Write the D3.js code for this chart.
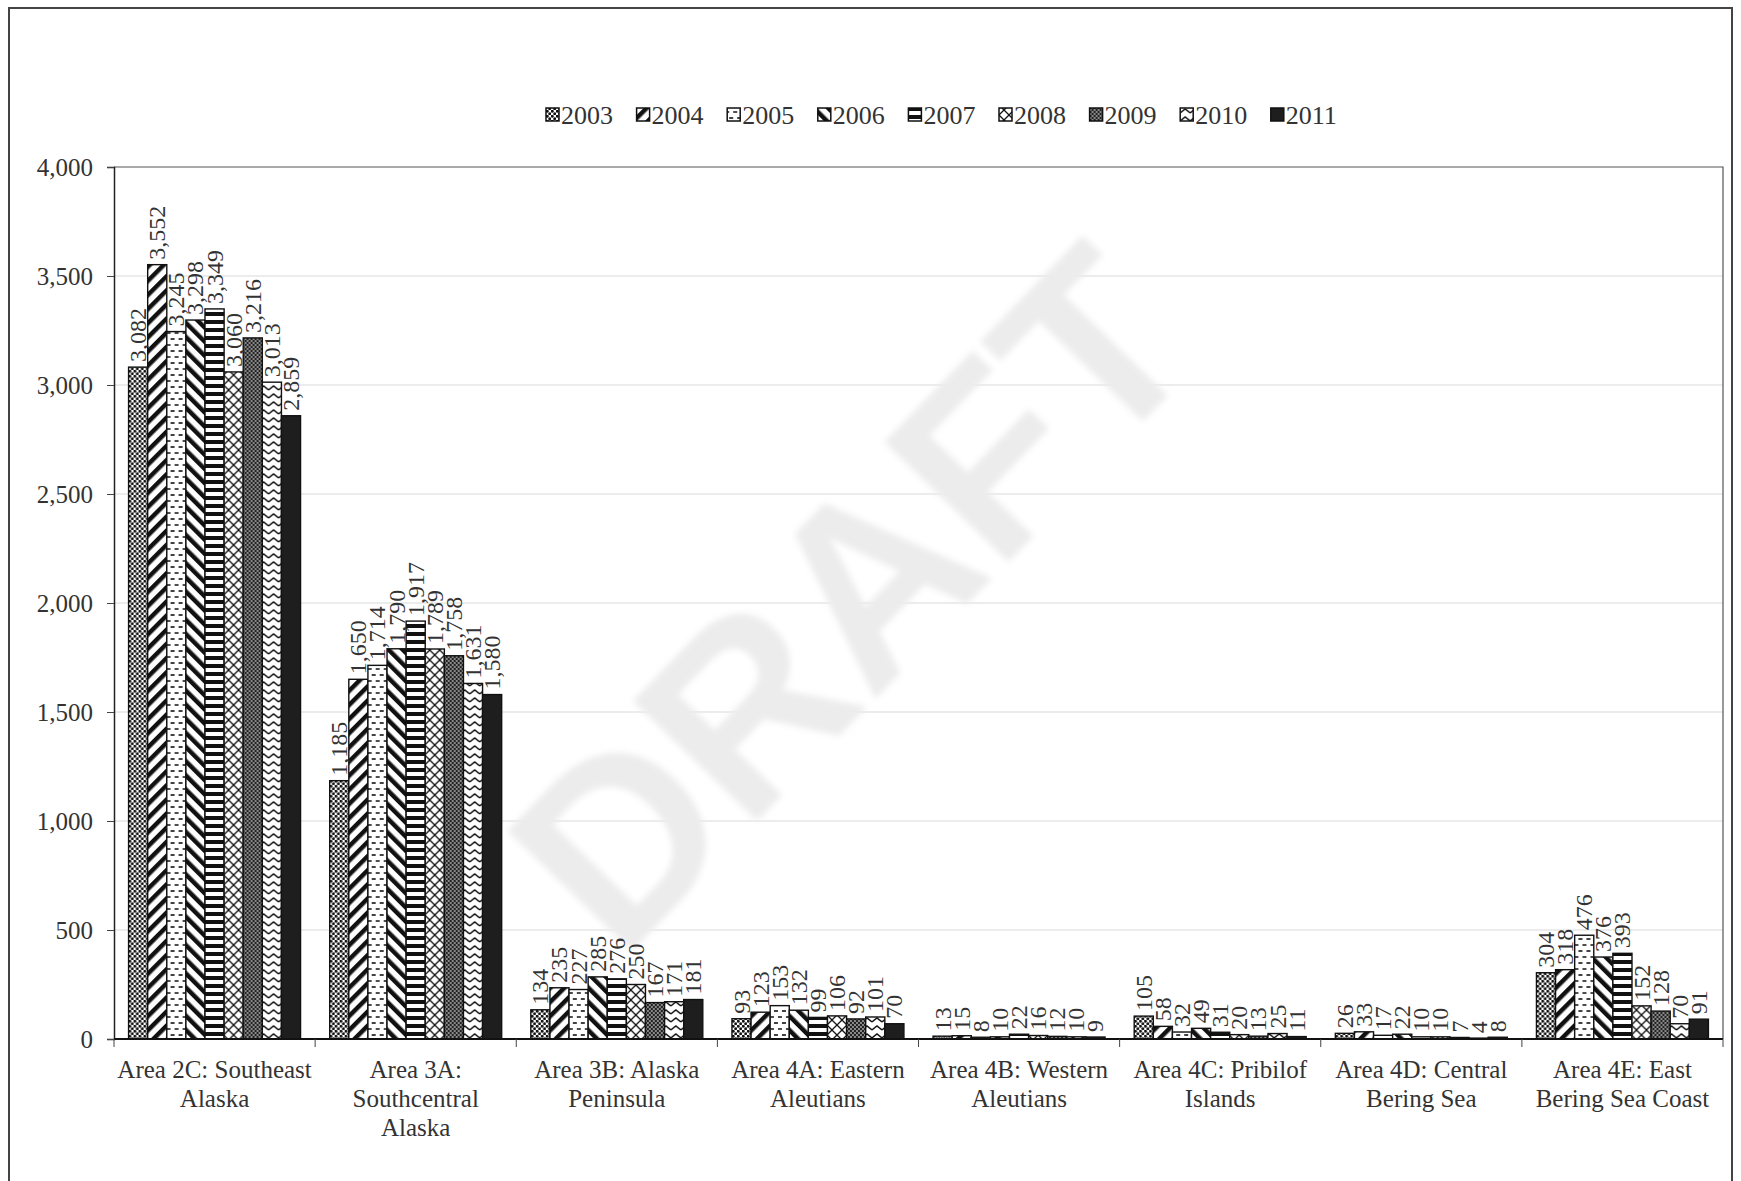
<!DOCTYPE html>
<html>
<head>
<meta charset="utf-8">
<script src="https://cdn.jsdelivr.net/npm/d3@7"></script>
<style>
  html, body { margin: 0; padding: 0; background: #fff; }
  svg { display: block; }
  text { font-family: "Liberation Serif", "Times New Roman", serif; fill: #333; }
</style>
</head>
<body>
<svg id="chart" width="1741" height="1181"></svg>
<script>
// Halibut by regulatory area, 2003-2011
const areas = [
  ["Area 2C: Southeast", "Alaska"],
  ["Area 3A:", "Southcentral", "Alaska"],
  ["Area 3B: Alaska", "Peninsula"],
  ["Area 4A: Eastern", "Aleutians"],
  ["Area 4B: Western", "Aleutians"],
  ["Area 4C: Pribilof", "Islands"],
  ["Area 4D: Central", "Bering Sea"],
  ["Area 4E: East", "Bering Sea Coast"]
];
const years = ["2003", "2004", "2005", "2006", "2007", "2008", "2009", "2010", "2011"];

// one array per area, values in year order
const area2C = [3082, 3552, 3245, 3298, 3349, 3060, 3216, 3013, 2859];
const area3A = [1185, 1650, 1714, 1790, 1917, 1789, 1758, 1631, 1580];
const area3B = [134, 235, 227, 285, 276, 250, 167, 171, 181];
const area4A = [93, 123, 153, 132, 99, 106, 92, 101, 70];
const area4B = [13, 15, 8, 10, 22, 16, 12, 10, 9];
const area4C = [105, 58, 32, 49, 31, 20, 13, 25, 11];
const area4D = [26, 33, 17, 22, 10, 10, 7, 4, 8];
const area4E = [304, 318, 476, 376, 393, 152, 128, 70, 91];
const seriesByArea = [area2C, area3A, area3B, area4A, area4B, area4C, area4D, area4E];

const yTicks = [0, 500, 1000, 1500, 2000, 2500, 3000, 3500, 4000];

const svg = d3.select("#chart");
const W = 1741, H = 1181;
const plot = { left: 114, right: 1723, top: 167, bottom: 1039 };

// page frame
svg.append("path")
  .attr("d", `M9,${H} V8 H1732 V${H}`)
  .attr("fill", "none").attr("stroke", "#444").attr("stroke-width", 2);

// fill patterns, one per year
const defs = svg.append("defs");
defs.append("filter").attr("id", "soft")
  .append("feGaussianBlur").attr("stdDeviation", 3);
function pat(id, w, h, draw, bg = "#fff", transform = null) {
  const p = defs.append("pattern").attr("id", id)
    .attr("patternUnits", "userSpaceOnUse").attr("width", w).attr("height", h);
  if (transform) p.attr("patternTransform", transform);
  p.append("rect").attr("width", w).attr("height", h).attr("fill", bg);
  draw(p);
}
pat("p2003", 5, 5, p => {
  p.append("circle").attr("cx", 1.2).attr("cy", 1.2).attr("r", 1.5).attr("fill", "#111");
  p.append("circle").attr("cx", 3.7).attr("cy", 3.7).attr("r", 1.5).attr("fill", "#111");
});
pat("p2004", 10, 10, p => {
  p.append("rect").attr("x", 0).attr("y", 0).attr("width", 4.5).attr("height", 10).attr("fill", "#111");
}, "#fff", "rotate(45)");
pat("p2005", 8, 12, p => {
  p.append("line").attr("x1", 2).attr("x2", 6).attr("y1", 3).attr("y2", 3).attr("stroke", "#111").attr("stroke-width", 1.6);
  p.append("line").attr("x1", 0).attr("x2", 2).attr("y1", 9).attr("y2", 9).attr("stroke", "#111").attr("stroke-width", 1.6);
  p.append("line").attr("x1", 6).attr("x2", 8).attr("y1", 9).attr("y2", 9).attr("stroke", "#111").attr("stroke-width", 1.6);
});
pat("p2006", 10, 10, p => {
  p.append("rect").attr("x", 0).attr("y", 0).attr("width", 4.5).attr("height", 10).attr("fill", "#111");
}, "#fff", "rotate(-45)");
pat("p2007", 8, 8, p => {
  p.append("rect").attr("x", 0).attr("y", 0).attr("width", 8).attr("height", 4).attr("fill", "#111");
});
pat("p2008", 10, 10, p => {
  p.append("path").attr("d", "M0,0 L10,10 M10,0 L0,10").attr("stroke", "#111").attr("stroke-width", 1.3);
});
pat("p2009", 4, 4, p => {
  p.append("rect").attr("x", 0).attr("y", 0).attr("width", 2).attr("height", 2).attr("fill", "#222");
  p.append("rect").attr("x", 2).attr("y", 2).attr("width", 2).attr("height", 2).attr("fill", "#222");
}, "#888");
pat("p2010", 10, 8, p => {
  p.append("path").attr("d", "M0,6 L5,2 L10,6").attr("fill", "none").attr("stroke", "#111").attr("stroke-width", 1.5);
});
pat("p2011", 4, 4, () => {}, "#1e1e1e");
const fillFor = y => `url(#p${y})`;

// scales
const x0 = d3.scaleBand().domain(d3.range(areas.length))
  .range([plot.left, plot.right]).paddingInner(0.145).paddingOuter(0.0725);
const x1 = d3.scaleBand().domain(years).range([0, x0.bandwidth()]);
const y = d3.scaleLinear().domain([0, 4000]).range([plot.bottom, plot.top]);

// gridlines
svg.append("g").selectAll("line").data(yTicks.filter(t => t > 0 && t < 4000)).join("line")
  .attr("x1", plot.left).attr("x2", plot.right)
  .attr("y1", d => y(d)).attr("y2", d => y(d))
  .attr("stroke", "#d9d9d9").attr("stroke-width", 1);

// watermark
svg.append("text")
  .attr("transform", "translate(852,598) rotate(-46)")
  .attr("text-anchor", "middle").attr("dominant-baseline", "central")
  .attr("filter", "url(#soft)")
  .style("font-family", "'Liberation Sans', Arial, sans-serif")
  .style("font-weight", "bold")
  .style("font-size", "250px").style("fill", "#ececec")
  .text("DRAFT");

// plot frame top/right
svg.append("path")
  .attr("d", `M${plot.left},${plot.top} H${plot.right} V${plot.bottom}`)
  .attr("fill", "none").attr("stroke", "#555").attr("stroke-width", 1.2);

// bars
const groups = svg.append("g").selectAll("g").data(seriesByArea).join("g")
  .attr("transform", (d, i) => `translate(${x0(i)},0)`);
groups.selectAll("rect").data(d => d.map((v, k) => ({ v, year: years[k] }))).join("rect")
  .attr("x", d => x1(d.year)).attr("width", x1.bandwidth())
  .attr("y", d => y(d.v)).attr("height", d => y(0) - y(d.v))
  .attr("fill", d => fillFor(d.year))
  .attr("stroke", "#111").attr("stroke-width", 1.4);

// value labels, rotated
const fmt = d3.format(",");
groups.selectAll("text.val").data(d => d.map((v, k) => ({ v, year: years[k] }))).join("text")
  .attr("class", "val")
  .attr("transform", d => `translate(${x1(d.year) + x1.bandwidth() / 2 + 8},${y(d.v) - 5}) rotate(-90)`)
  .style("font-size", "24px")
  .text(d => fmt(d.v));

// y axis
const yAxis = svg.append("g").attr("transform", `translate(${plot.left},0)`)
  .call(d3.axisLeft(y).tickValues(yTicks).tickFormat(fmt).tickSize(7).tickPadding(14));
yAxis.select(".domain").attr("stroke", "#222").attr("stroke-width", 1.5);
yAxis.selectAll(".tick line").attr("stroke", "#444");
yAxis.selectAll(".tick text").style("font-size", "25px").attr("fill", "#333")
  .style("font-family", "'Liberation Serif', serif");

// x axis baseline and category ticks
svg.append("line").attr("x1", plot.left).attr("x2", plot.right)
  .attr("y1", plot.bottom).attr("y2", plot.bottom)
  .attr("stroke", "#111").attr("stroke-width", 2);
const step = (plot.right - plot.left) / areas.length;
svg.append("g").selectAll("line").data(d3.range(areas.length + 1)).join("line")
  .attr("x1", i => plot.left + i * step).attr("x2", i => plot.left + i * step)
  .attr("y1", plot.bottom).attr("y2", plot.bottom + 8)
  .attr("stroke", "#444").attr("stroke-width", 1);

// category labels
const cat = svg.append("g").selectAll("text").data(areas).join("text")
  .attr("x", (d, i) => x0(i) + x0.bandwidth() / 2)
  .attr("y", plot.bottom + 39)
  .attr("text-anchor", "middle").style("font-size", "25px");
cat.selectAll("tspan").data(d => d).join("tspan")
  .attr("x", function () { return this.parentNode.getAttribute("x"); })
  .attr("dy", (d, i) => i === 0 ? 0 : 29)
  .text(d => d);

// legend
const legend = svg.append("g").selectAll("g").data(years).join("g")
  .attr("transform", (d, i) => `translate(${546 + i * 90.6},115)`);
legend.append("rect").attr("x", 0).attr("y", -7).attr("width", 13).attr("height", 13)
  .attr("fill", d => fillFor(d)).attr("stroke", "#111").attr("stroke-width", 1.5);
legend.append("text").attr("x", 15).attr("y", 0).attr("dominant-baseline", "central")
  .style("font-size", "26px").text(d => d);
</script>
</body>
</html>
